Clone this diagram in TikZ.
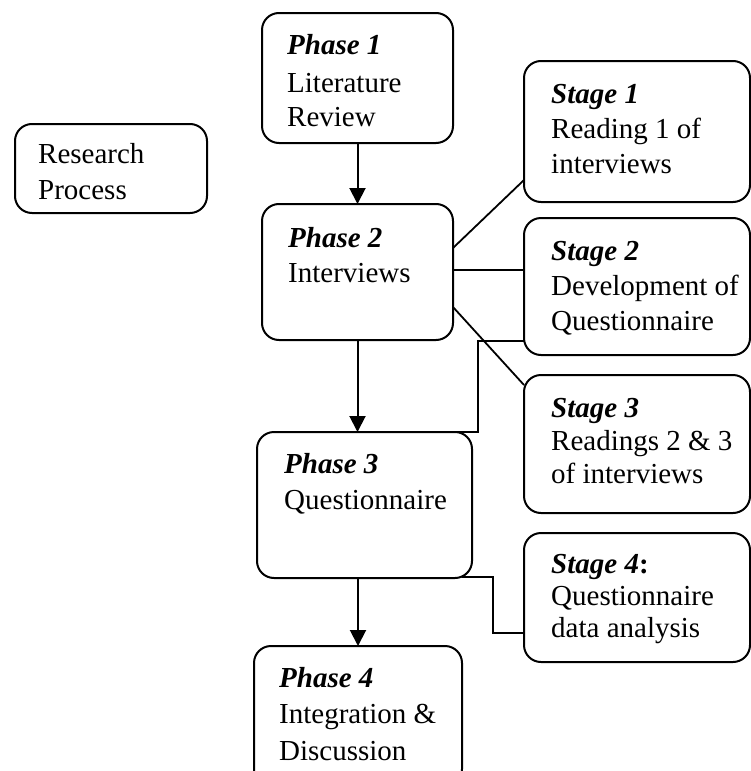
\documentclass[tikz,border=0pt]{standalone}
\usepackage{fontspec}
\setmainfont{Liberation Serif}
\usetikzlibrary{arrows.meta,calc}
\begin{document}
\begin{tikzpicture}[x=1pt,y=-1pt,
  box/.style={draw,line width=2pt,rounded corners=17pt,anchor=north west,inner sep=0pt,outer sep=0pt},
  txt/.style={anchor=base west,inner sep=0pt,font=\fontsize{29}{34}\selectfont},
  hd/.style={txt,font=\fontsize{29}{34}\selectfont\bfseries\itshape},
  conn/.style={line width=1.8pt},
  arr/.style={line width=2pt,-{Triangle[width=16pt,length=16pt]}}]
\useasboundingbox (0,0) rectangle (751,771);
\clip (0,0) rectangle (751,771);
% boxes
\node[box,minimum width=192pt,minimum height=89pt] (rp) at (15,124) {};
\node[box,minimum width=191pt,minimum height=130pt] (p1) at (262,13) {};
\node[box,minimum width=191pt,minimum height=136pt] (p2) at (262,204) {};
\node[box,minimum width=215pt,minimum height=146pt] (p3) at (257,432) {};
\node[box,minimum width=208pt,minimum height=140pt] (p4) at (254,646) {};
\node[box,minimum width=226pt,minimum height=141pt] (s1) at (524,61) {};
\node[box,minimum width=226pt,minimum height=137pt] (s2) at (524,218) {};
\node[box,minimum width=226pt,minimum height=138pt] (s3) at (524,375) {};
\node[box,minimum width=226pt,minimum height=129pt] (s4) at (524,533) {};
% texts
\node[txt] (rpa) at (38,163) {Research};
\node[txt] (rpb) at (38,199) {Process};
\node[hd] (p1a) at (287,54) {Phase 1};
\node[txt] (p1b) at (287,92) {Literature};
\node[txt] (p1c) at (287,126) {Review};
\node[hd] (p2a) at (288,247) {Phase 2};
\node[txt] (p2b) at (288,282) {Interviews};
\node[hd] (p3a) at (284,473) {Phase 3};
\node[txt] (p3b) at (284,509) {Questionnaire};
\node[hd] (p4a) at (279,687) {Phase 4};
\node[txt] (p4b) at (279,723) {Integration \&};
\node[txt] (p4c) at (279,760) {Discussion};
\node[hd] (s1a) at (551,103) {Stage 1};
\node[txt] (s1b) at (551,138) {Reading 1 of};
\node[txt] (s1c) at (551,173) {interviews};
\node[hd] (s2a) at (551,260) {Stage 2};
\node[txt] (s2b) at (551,295) {Development of};
\node[txt] (s2c) at (551,330) {Questionnaire};
\node[hd] (s3a) at (551,417) {Stage 3};
\node[txt] (s3b) at (551,450) {Readings 2 \& 3};
\node[txt] (s3c) at (551,483) {of interviews};
\node[txt] (s4a) at (551,573) {\textbf{\textit{Stage 4}:}};
\node[txt] (s4b) at (551,605) {Questionnaire};
\node[txt] (s4c) at (551,637) {data analysis};
% arrows
\draw[arr] (p1.south) -- (p2.north);
\draw[arr] (p2.south) -- (p2.south |- p3.north);
\draw[arr] (p4.north |- p3.south) -- (p4.north);
% connectors
\draw[conn] ([yshift=-44pt]p2.north east) -- ([yshift=22pt]s1.south west);
\coordinate (c2) at ([yshift=-66pt]p2.north east);
\draw[conn] (c2) -- (c2 -| s2.west);
\draw[conn] ([yshift=-103pt]p2.north east) -- ([yshift=-10pt]s3.north west);
\coordinate (c3) at ([xshift=-40pt]p3.north east);
\coordinate (c3b) at ([yshift=14pt]s2.south west);
\draw[conn] (c3) -- ++(46,0) |- (c3b);
\coordinate (c4) at ([xshift=-10pt,yshift=1pt]p3.south east);
\coordinate (c4b) at ([yshift=29pt]s4.south west);
\draw[conn] (c4) -- ++(31,0) |- (c4b);
\end{tikzpicture}
\end{document}
